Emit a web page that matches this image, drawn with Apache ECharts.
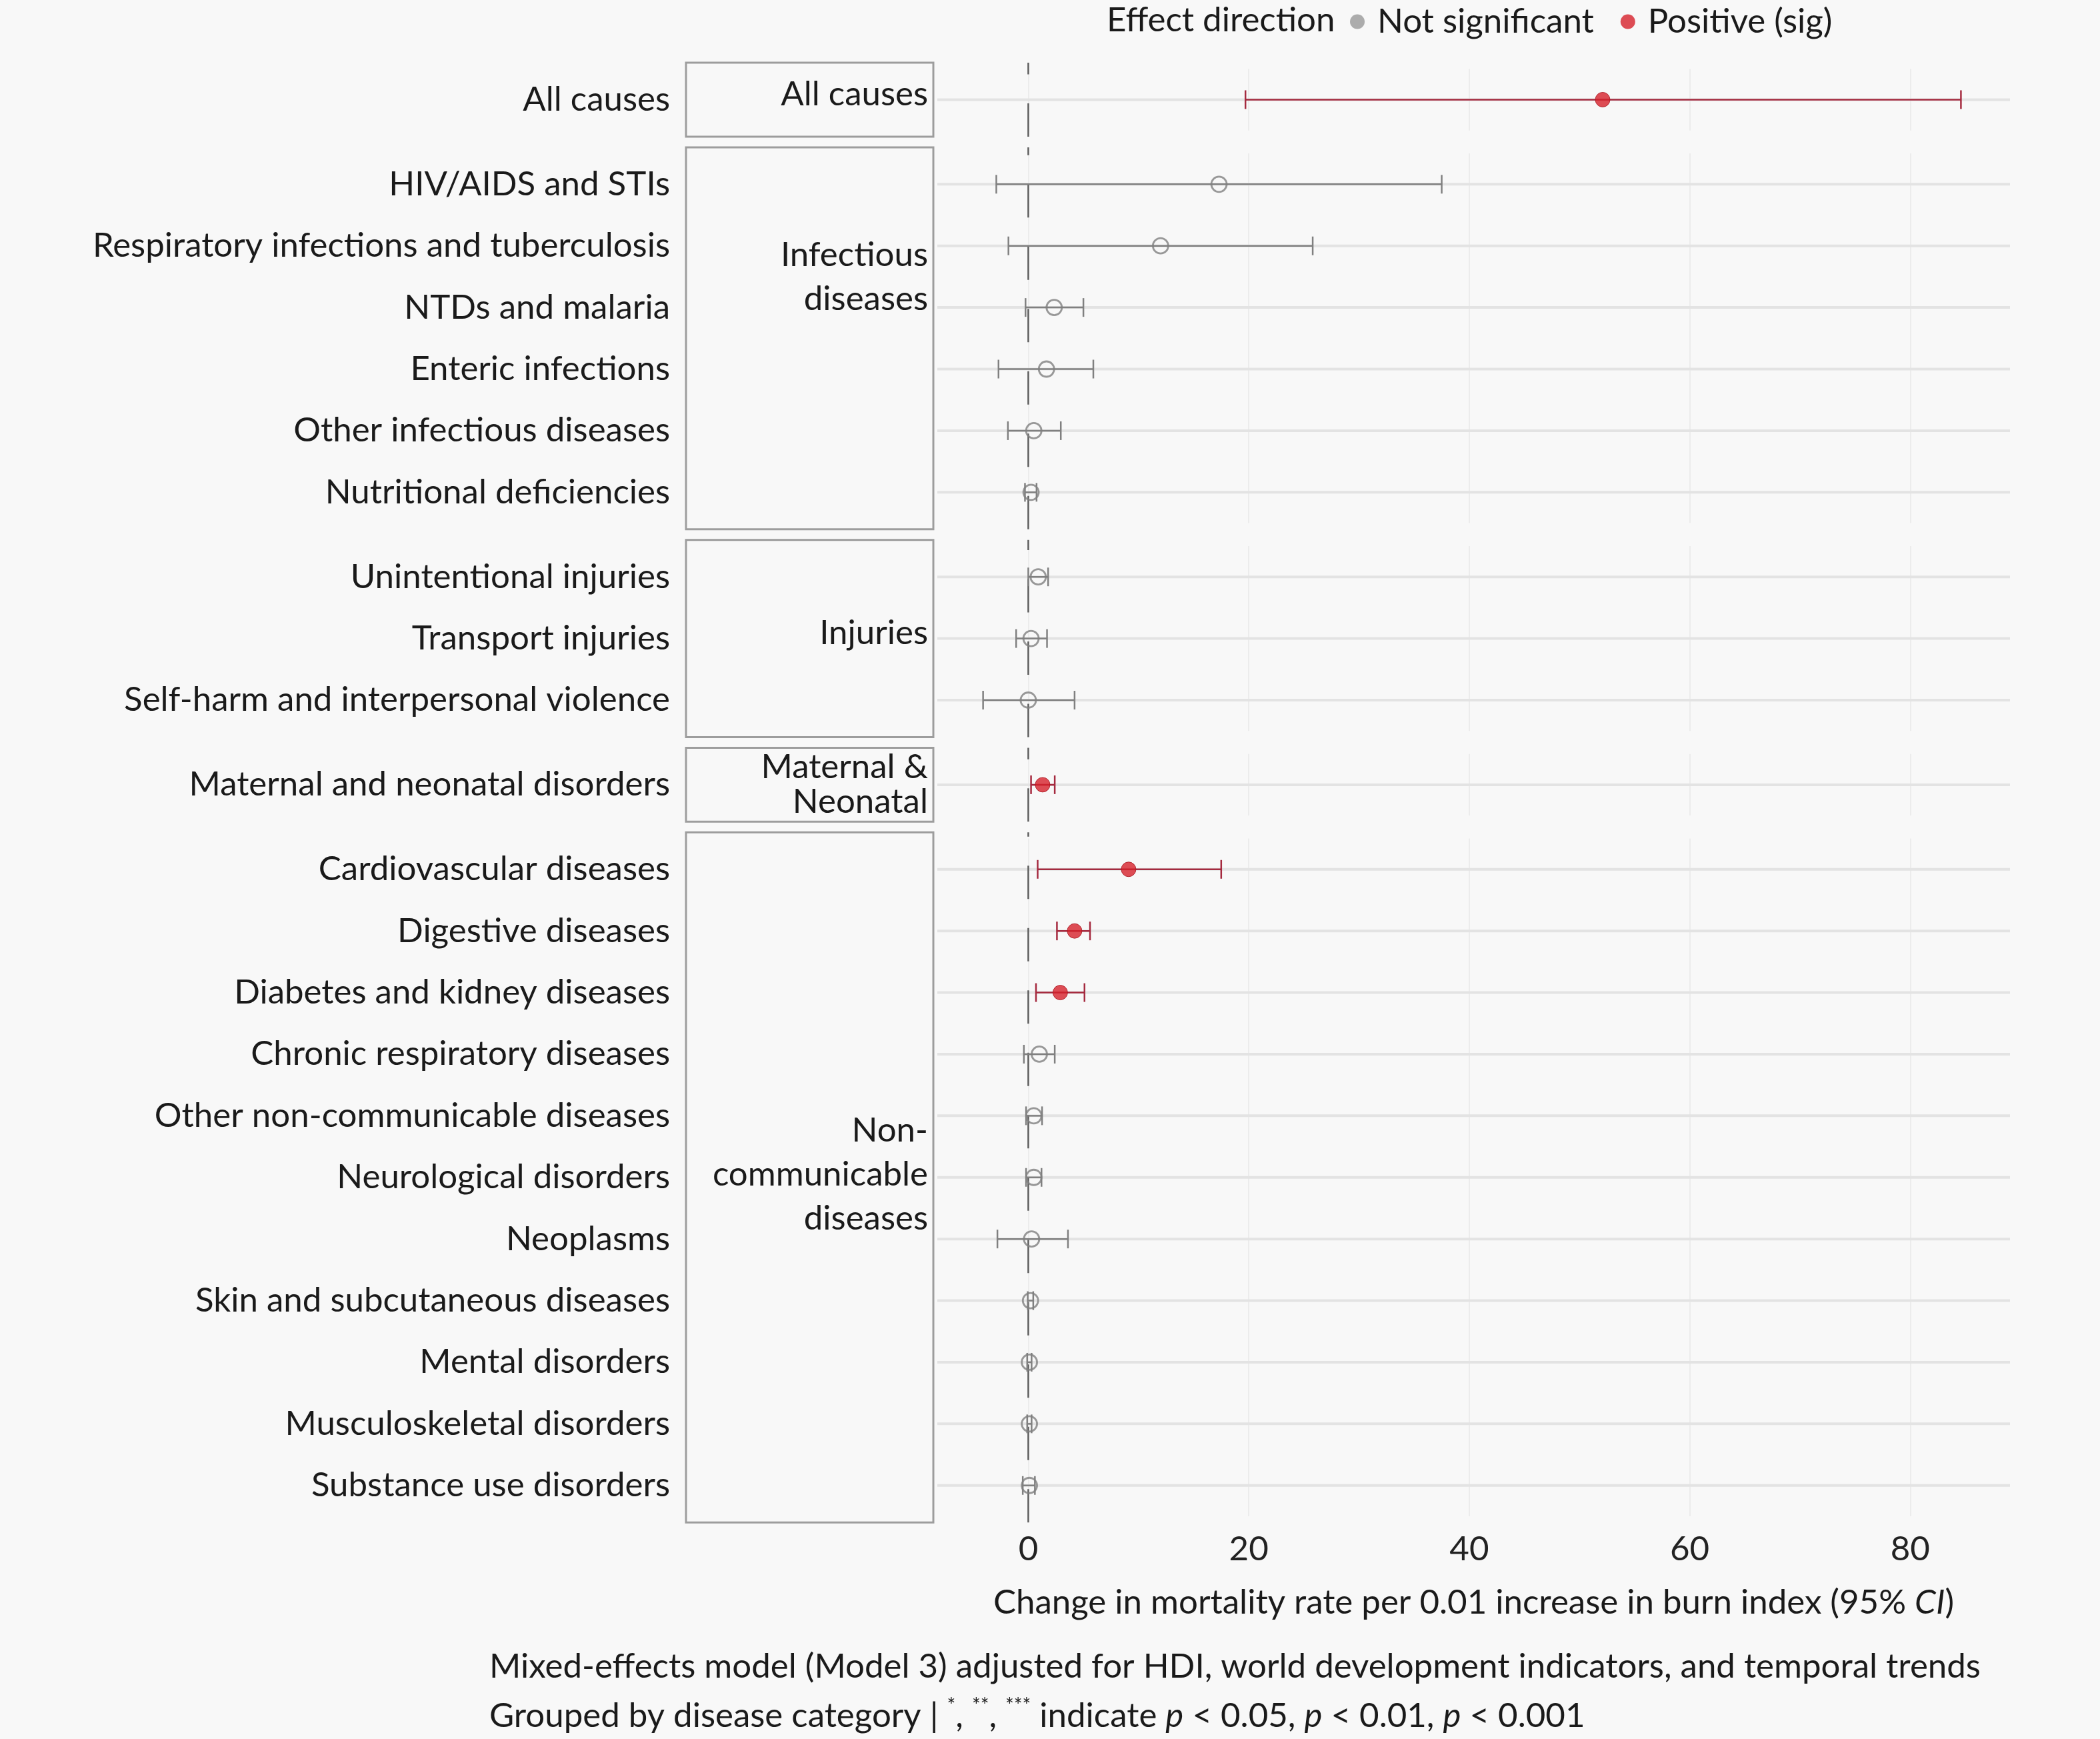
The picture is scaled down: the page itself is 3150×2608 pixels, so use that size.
<!DOCTYPE html>
<html>
<head>
<meta charset="utf-8">
<title>Burn index and cause-specific mortality</title>
<script src="https://cdn.jsdelivr.net/npm/echarts@6/dist/echarts.min.js"></script>
<style>
  html, body { margin: 0; padding: 0; background: #f8f8f8; }
  #main { width: 3150px; height: 2608px; }
</style>
</head>
<body>
<div id="main"></div>
<script>
// causes, top to bottom, with the facet they belong to
var causes = [
    'All causes',
    'HIV/AIDS and STIs', 'Respiratory infections and tuberculosis', 'NTDs and malaria',
    'Enteric infections', 'Other infectious diseases', 'Nutritional deficiencies',
    'Unintentional injuries', 'Transport injuries', 'Self-harm and interpersonal violence',
    'Maternal and neonatal disorders',
    'Cardiovascular diseases', 'Digestive diseases', 'Diabetes and kidney diseases',
    'Chronic respiratory diseases', 'Other non-communicable diseases', 'Neurological disorders',
    'Neoplasms', 'Skin and subcutaneous diseases', 'Mental disorders',
    'Musculoskeletal disorders', 'Substance use disorders'
];
var groups = [
    'all',
    'inf', 'inf', 'inf', 'inf', 'inf', 'inf',
    'inj', 'inj', 'inj',
    'mat',
    'ncd', 'ncd', 'ncd', 'ncd', 'ncd', 'ncd', 'ncd', 'ncd', 'ncd', 'ncd', 'ncd'
];
var estimate = [52.1, 17.3, 12.0, 2.35, 1.65, 0.5, 0.25, 0.9, 0.25, 0.0, 1.3,
                9.1, 4.2, 2.9, 1.0, 0.5, 0.5, 0.3, 0.2, 0.1, 0.1, 0.1];
var lower = [19.7, -2.9, -1.8, -0.25, -2.7, -1.85, -0.3, 0.0, -1.1, -4.1, 0.25,
             0.85, 2.6, 0.7, -0.4, -0.2, -0.2, -2.8, -0.05, -0.1, -0.1, -0.5];
var upper = [84.6, 37.5, 25.8, 5.0, 5.9, 2.95, 0.75, 1.8, 1.7, 4.2, 2.4,
             17.5, 5.6, 5.1, 2.4, 1.25, 1.2, 3.6, 0.45, 0.3, 0.3, 0.6];
var significant = [1, 0, 0, 0, 0, 0, 0, 0, 0, 0, 1,
                   1, 1, 1, 0, 0, 0, 0, 0, 0, 0, 0];

var groupKeys = ['all', 'inf', 'inj', 'mat', 'ncd'];
var groupLabels = ['All causes', 'Infectious\ndiseases', 'Injuries', 'Maternal &\nNeonatal',
                   'Non-\ncommunicable\ndiseases'];
var xTicks = [0, 20, 40, 60, 80];

// layout (px)
var FONT = 'Lato', FS = 51;
var unit = 92.4, panelGap = 16, firstTop = 94;
var plotLeft = 1406, plotRight = 3015;
var stripLeft = 1029, stripRight = 1400;
var stripTextShift = [-8, -92, -8, 0, -4];
var stripLineH = [66, 66, 66, 52, 66];
var xMin = -8.25, xMax = 89.05;
var grey = '#808080', redLine = '#a52a3f', redDot = '#d6202a', ink = '#1a1a1a';

var myChart = echarts.init(document.getElementById('main'));

var grids = [], xAxes = [], yAxes = [], series = [], graphics = [];
var panelTop = firstTop;

groupKeys.forEach(function (key, g) {
    var idx = [];
    groups.forEach(function (k, i) { if (k === key) idx.push(i); });
    var n = idx.length;
    var names = idx.map(function (i) { return causes[i]; });
    var pHeight = (n + 0.2) * unit;
    var last = g === groupKeys.length - 1;

    grids.push({ left: plotLeft, right: 3150 - plotRight, top: panelTop + 0.1 * unit, height: n * unit });
    xAxes.push({
        type: 'value', gridIndex: g, min: xMin, max: xMax,
        axisLine: { show: false }, axisTick: { show: false },
        axisLabel: {
            show: last, fontFamily: FONT, fontSize: FS, color: '#222', margin: 24,
            showMinLabel: false, showMaxLabel: false,
            formatter: function (v) { return xTicks.indexOf(v) >= 0 ? String(v) : ''; }
        },
        splitLine: { show: true, showMinLine: false, showMaxLine: false,
                     lineStyle: { color: '#ececec', width: 2 } },
        name: last ? '{a|Change in mortality rate per 0.01 increase in burn index (95% }{i|CI}{a|)}' : '',
        nameLocation: 'middle', nameGap: 104,
        nameTextStyle: {
            rich: {
                a: { fontFamily: FONT, fontSize: FS, color: ink },
                i: { fontFamily: FONT, fontSize: FS, color: ink, fontStyle: 'italic' }
            }
        }
    });
    yAxes.push({
        type: 'category', gridIndex: g, data: names, inverse: true,
        axisLine: { show: false }, axisTick: { show: false }, splitLine: { show: false },
        axisLabel: { fontFamily: FONT, fontSize: FS, color: ink, margin: 401 }
    });

    var rowData = idx.map(function (i, r) { return [lower[i], r, upper[i], significant[i]]; });

    // row grid lines
    series.push({
        type: 'custom', xAxisIndex: g, yAxisIndex: g, z: 1, silent: true,
        encode: { x: [0, 2], y: 1 },
        data: rowData,
        renderItem: function (params, api) {
            var y = api.coord([0, api.value(1)])[1];
            var cs = params.coordSys;
            return { type: 'line', shape: { x1: cs.x, y1: y, x2: cs.x + cs.width, y2: y },
                     style: { stroke: '#e3e3e3', lineWidth: 4 } };
        }
    });
    // dashed reference line at zero, drawn bottom-up over the whole panel
    series.push({
        type: 'custom', xAxisIndex: g, yAxisIndex: g, z: 2, silent: true, clip: false,
        encode: { x: 0, y: [1, 2] },
        data: [[0, 0, n - 1]],
        renderItem: function (params, api) {
            var band = api.size([0, 1])[1];
            var a = api.coord([api.value(0), api.value(1)]);
            var b = api.coord([api.value(0), api.value(2)]);
            return { type: 'line',
                     shape: { x1: a[0], y1: b[1] + 0.6 * band, x2: a[0], y2: a[1] - 0.6 * band },
                     style: { stroke: '#5e5e5e', lineWidth: 2.5, lineDash: [50, 43.5] } };
        }
    });
    // confidence interval bars
    series.push({
        type: 'custom', xAxisIndex: g, yAxisIndex: g, z: 3, silent: true,
        encode: { x: [0, 2], y: 1 },
        data: rowData,
        renderItem: function (params, api) {
            var p1 = api.coord([api.value(0), api.value(1)]);
            var p2 = api.coord([api.value(2), api.value(1)]);
            var c = api.value(3) ? redLine : grey;
            var st = { stroke: c, lineWidth: 2.5 };
            return { type: 'group', children: [
                { type: 'line', shape: { x1: p1[0], y1: p1[1], x2: p2[0], y2: p2[1] }, style: st },
                { type: 'line', shape: { x1: p1[0], y1: p1[1] - 14, x2: p1[0], y2: p1[1] + 14 }, style: st },
                { type: 'line', shape: { x1: p2[0], y1: p2[1] - 14, x2: p2[0], y2: p2[1] + 14 }, style: st }
            ] };
        }
    });
    // point estimates
    series.push({
        name: 'Not significant', type: 'scatter', xAxisIndex: g, yAxisIndex: g, z: 4,
        symbol: 'circle', symbolSize: 23,
        itemStyle: { color: 'rgba(0,0,0,0)', borderColor: grey, borderWidth: 2.8 },
        data: idx.filter(function (i) { return !significant[i]; })
                 .map(function (i) { return [estimate[i], idx.indexOf(i)]; })
    });
    series.push({
        name: 'Positive (sig)', type: 'scatter', xAxisIndex: g, yAxisIndex: g, z: 4,
        symbol: 'circle', symbolSize: 22,
        itemStyle: { color: redDot, borderColor: '#a81822', borderWidth: 1 },
        data: idx.filter(function (i) { return significant[i]; })
                 .map(function (i) { return [estimate[i], idx.indexOf(i)]; })
    });

    // facet strip on the left
    graphics.push({
        type: 'rect', z: 0,
        shape: { x: stripLeft, y: panelTop, width: stripRight - stripLeft, height: pHeight },
        style: { fill: '#f8f8f8', stroke: '#9d9d9d', lineWidth: 3 }
    });
    graphics.push({
        type: 'text', z: 1,
        style: {
            text: groupLabels[g], x: stripRight - 8, y: panelTop + pHeight / 2 + stripTextShift[g],
            align: 'right', verticalAlign: 'middle', fill: ink,
            font: FS + 'px ' + FONT, lineHeight: stripLineH[g]
        }
    });

    panelTop += pHeight + panelGap;
});

var option = {
    backgroundColor: '#f8f8f8',
    animation: false,
    title: [
        { text: 'Effect direction', left: 1655, top: 0,
          textStyle: { fontFamily: FONT, fontSize: FS, fontWeight: 'normal', color: ink } },
        {
            text: '{a|Mixed-effects model (Model 3) adjusted for HDI, world development indicators, and temporal trends}\n' +
                  '{a|Grouped by disease category | }{s|*}{a|, }{s|**}{a|, }{s|***}{a| indicate }{i|p}{a| < 0.05, }' +
                  '{i|p}{a| < 0.01, }{i|p}{a| < 0.001}',
            left: 729, top: 2458,
            textStyle: {
                fontWeight: 'normal',
                rich: {
                    a: { fontFamily: FONT, fontSize: FS, fontWeight: 'normal', color: ink, lineHeight: 74 },
                    i: { fontFamily: FONT, fontSize: FS, fontWeight: 'normal', color: ink, fontStyle: 'italic', lineHeight: 74 },
                    s: { fontFamily: FONT, fontSize: 30, fontWeight: 'normal', color: ink, verticalAlign: 'top',
                         lineHeight: 74, padding: [6, 0, 0, 0] }
                }
            }
        }
    ],
    legend: {
        left: 2020, top: 2,
        itemWidth: 50, itemHeight: 22, itemGap: 40, icon: 'circle',
        textStyle: { fontFamily: FONT, fontSize: FS, color: ink },
        data: [
            { name: 'Not significant', itemStyle: { color: '#999999', borderWidth: 0 } },
            { name: 'Positive (sig)', itemStyle: { color: redDot, borderWidth: 0 } }
        ]
    },
    grid: grids,
    xAxis: xAxes,
    yAxis: yAxes,
    series: series,
    graphic: graphics
};

myChart.setOption(option);
</script>
</body>
</html>
